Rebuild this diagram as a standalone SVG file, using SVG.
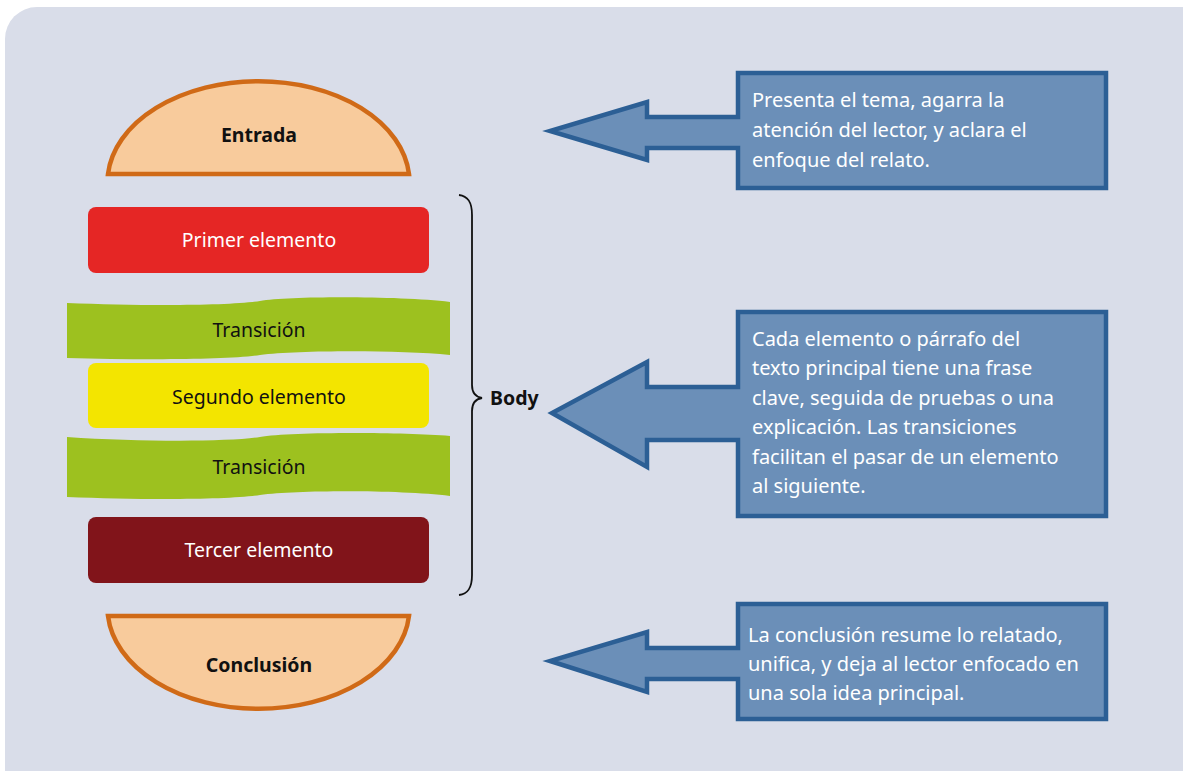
<svg xmlns="http://www.w3.org/2000/svg" width="1183" height="771" viewBox="0 0 1183 771">
<style>
.t{font-family:"Noto Sans","Liberation Sans",sans-serif;font-size:19.5px}
.s{font-size:20px}
.b{font-weight:bold}
.c{text-anchor:middle}
.w{fill:#ffffff}
.k{fill:#111111}
.bun{fill:#f8cb9c;stroke:#d06a17;stroke-width:4.5}
.cal{fill:#6b8fb8;stroke:#2c5f95;stroke-width:4.5;stroke-linejoin:miter}
.green{fill:#9dc11f}
</style>
<rect x="5" y="7" width="1210" height="800" rx="32" fill="#d9dde9"/>
<g id="entrada">
<path class="bun" d="M108 174 A151 101 0 0 1 409 174 Z"/>
<text class="t b c k" x="259" y="142">Entrada</text>
</g>
<g id="primer">
<rect x="88" y="207" width="341" height="66" rx="8" fill="#e52625"/>
<text class="t c w" x="259" y="247">Primer elemento</text>
</g>
<g id="transicion1">
<path class="green" d="M67 303 C140 306 230 306 260 301 C290 296 400 296 450 302 L450 355 C400 350 300 350 260 355 C230 360 140 360 67 358 Z"/>
<text class="t c k" x="259" y="337">Transición</text>
</g>
<g id="segundo">
<rect x="88" y="363" width="341" height="65" rx="8" fill="#f3e500"/>
<text class="t c k" x="259" y="404">Segundo elemento</text>
</g>
<g id="transicion2">
<path class="green" d="M67 437 C140 442 230 442 260 437 C290 432 400 432 450 436 L450 496 C400 490 300 490 260 495 C230 500 140 500 67 497 Z"/>
<text class="t c k" x="259" y="474">Transición</text>
</g>
<g id="tercer">
<rect x="88" y="517" width="341" height="66" rx="8" fill="#81141a"/>
<text class="t c w" x="259" y="557">Tercer elemento</text>
</g>
<g id="conclusion">
<path class="bun" d="M108 616 L409 616 A151 101 0 0 1 108 616 Z"/>
<text class="t b c k" x="259" y="672">Conclusión</text>
</g>
<g id="body">
<path d="M459 195 C468 196 472 202 472 215 L472 385 C472 393 476 397 482 398 C476 399 472 403 472 411 L472 575 C472 588 468 594 459 595" fill="none" stroke="#111" stroke-width="1.8"/>
<text class="t b k" x="490" y="405">Body</text>
</g>
<g id="connectors">
<path class="cal" d="M738 73 L1106 73 L1106 188 L738 188 L738 148 L647 148 L647 160 L550 131 L647 102 L647 117 L738 117 Z"/>
<path class="cal" d="M738 312 L1106 312 L1106 516 L738 516 L738 440 L647 440 L647 467 L552 413 L647 362 L647 387 L738 387 Z"/>
<path class="cal" d="M738 604 L1106 604 L1106 719 L738 719 L738 679 L647 679 L647 692 L550 661 L647 632 L647 648 L738 648 Z"/>
</g>
<g id="callout1">
<text class="t s w" x="752" y="107">Presenta el tema, agarra la</text>
<text class="t s w" x="752" y="137">atención del lector, y aclara el</text>
<text class="t s w" x="752" y="167">enfoque del relato.</text>
</g>
<g id="callout2">
<text class="t s w" x="752" y="346">Cada elemento o párrafo del</text>
<text class="t s w" x="752" y="375">texto principal tiene una frase</text>
<text class="t s w" x="752" y="405">clave, seguida de pruebas o una</text>
<text class="t s w" x="752" y="434">explicación. Las transiciones</text>
<text class="t s w" x="752" y="464">facilitan el pasar de un elemento</text>
<text class="t s w" x="752" y="493">al siguiente.</text>
</g>
<g id="callout3">
<text class="t s w" x="748" y="642">La conclusión resume lo relatado,</text>
<text class="t s w" x="748" y="671">unifica, y deja al lector enfocado en</text>
<text class="t s w" x="748" y="700">una sola idea principal.</text>
</g>
</svg>
